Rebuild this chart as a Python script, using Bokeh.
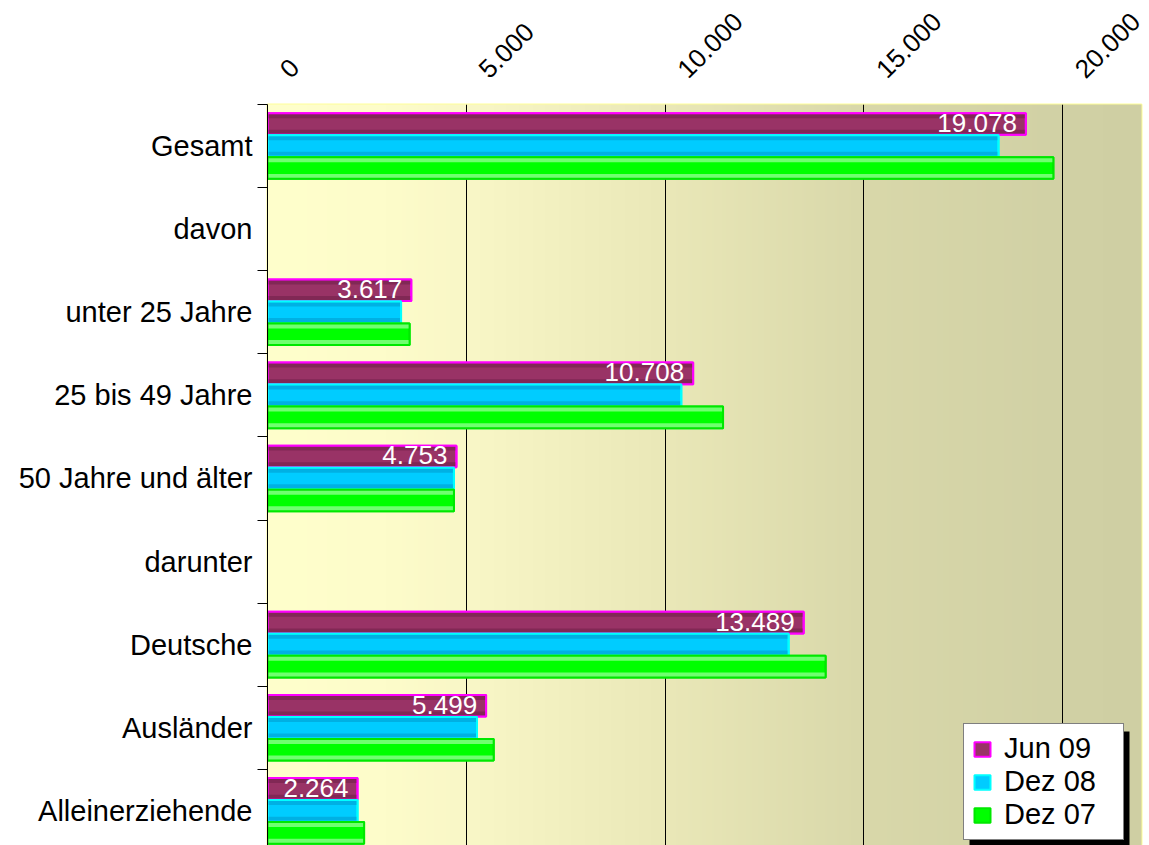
import math
import numpy as np
from bokeh.plotting import figure
from bokeh.models import (Range1d, FixedTicker, ColumnDataSource, Legend,
                          LegendItem, BoxAnnotation, LinearAxis)
from bokeh.core.properties import value
from bokeh.embed import file_html
from bokeh.resources import INLINE

nan = float("nan")

# ---------------- data ----------------
categories = ["Gesamt", "davon", "unter 25 Jahre", "25 bis 49 Jahre",
              "50 Jahre und älter", "darunter", "Deutsche", "Ausländer",
              "Alleinerziehende"]
jun09 = [19078, nan, 3617, 10708, 4753, nan, 13489, 5499, 2264]
dez08 = [18390, nan, 3360, 10410, 4690, nan, 13110, 5270, 2265]
dez07 = [19770, nan, 3575, 11460, 4690, nan, 14040, 5690, 2430]
series_names = ["Jun 09", "Dez 08", "Dez 07"]
x_ticks = [0, 5000, 10000, 15000, 20000]
x_tick_labels = ["0", "5.000", "10.000", "15.000", "20.000"]

FONT = "Liberation Sans"

# ---------------- styling ----------------
fills = ["#993366", "#00CCFF", "#00FF00"]
edges = ["#7A2651", "#00A9DC", "#8CFF8C"]
borders = ["#FF00FF", "#00FFFF", "#00E800"]
offsets = [-0.265, 0.0, 0.265]
bar_h = 0.26

W, H = 1149, 845
LEFT, TOP, RIGHT, BOTTOM = 267, 104, 8, 0
frame_w = W - LEFT - RIGHT
frame_h = H - TOP - BOTTOM
X_MAX = frame_w / 39.75 * 1000
Y_TOP = -0.5
Y_BOTTOM = Y_TOP + frame_h / 83.1
px_per_x = frame_w / X_MAX
px_per_y = frame_h / (Y_BOTTOM - Y_TOP)

p = figure(width=W, height=H, output_backend="svg", toolbar_location=None,
           x_range=Range1d(0, X_MAX), y_range=Range1d(Y_BOTTOM, Y_TOP),
           x_axis_location=None, min_border_left=LEFT, min_border_top=TOP,
           min_border_right=RIGHT, min_border_bottom=BOTTOM)
p.background_fill_color = "#FFFFCC"
p.border_fill_color = "white"
p.outline_line_color = "#FFFF99"
p.outline_line_width = 2

# background gradient (light yellow -> khaki)
stops_x = [0, 3000, 5000, 10000, 15000, 20000, 22000]
stops_c = [(255, 255, 204), (253, 252, 202), (249, 247, 199), (234, 232, 184),
           (217, 216, 170), (209, 209, 165), (207, 207, 163)]
N = 440
xs = np.linspace(0, 22000, N)
img = np.empty((1, N), dtype=np.uint32)
view = img.view(dtype=np.uint8).reshape((1, N, 4))
for ch in range(3):
    view[0, :, ch] = np.interp(xs, stops_x, [c[ch] for c in stops_c]).astype(np.uint8)
view[0, :, 3] = 255
p.image_rgba(image=[img], x=0, y=-0.6, dw=22000, dh=9.4, level="image")

idx = list(range(len(categories)))
legend_items = []
for k, vals in enumerate([jun09, dez08, dez07]):
    ys = [i + offsets[k] for i in idx]
    src = ColumnDataSource(dict(y=ys, right=vals,
                                yt=[y - bar_h / 2 + 0.03 for y in ys],
                                yb=[y + bar_h / 2 - 0.03 for y in ys]))
    base = p.hbar(y="y", left=0, right="right", height=bar_h, source=src,
                  fill_color=fills[k], line_color=borders[k], line_width=2)
    p.hbar(y="yt", left=0, right="right", height=0.06, source=src,
           fill_color=edges[k], fill_alpha=0.8, line_color=None)
    p.hbar(y="yb", left=0, right="right", height=0.06, source=src,
           fill_color=edges[k], fill_alpha=0.8, line_color=None)
    p.hbar(y="y", left=0, right="right", height=bar_h, source=src,
           fill_alpha=0, line_color=borders[k], line_width=2)
    legend_items.append(LegendItem(label=series_names[k], renderers=[base]))

# value labels on Jun 09 bars
lab_src = ColumnDataSource(dict(
    x=jun09, y=[i + offsets[0] for i in idx],
    t=["" if math.isnan(v) else f"{int(v):,}".replace(",", ".") for v in jun09]))
p.text(x="x", y="y", text="t", source=lab_src, text_align="right",
       text_baseline="middle", x_offset=-9, y_offset=-1, text_color="white",
       text_font=value(FONT), text_font_size="26px")

# grid
p.xgrid.ticker = FixedTicker(ticks=x_ticks)
p.xgrid.grid_line_color = "black"
p.xgrid.grid_line_width = 1
p.ygrid.visible = False

# top axis: label anchors sit a little right of their tick (Excel style),
# done through a shifted copy of the x range
shift = 17 / px_per_x
p.extra_x_ranges = {"lab": Range1d(-shift, X_MAX - shift)}
xa = LinearAxis(x_range_name="lab", ticker=FixedTicker(ticks=x_ticks))
xa.major_label_overrides = dict(zip(x_ticks, x_tick_labels))
xa.major_label_orientation = math.pi / 4
xa.axis_line_color = None
xa.major_tick_line_color = None
xa.minor_tick_line_color = None
xa.major_tick_out = 0
xa.major_label_text_font = FONT
xa.major_label_text_font_size = "26px"
xa.major_label_text_color = "black"
xa.major_label_standoff = 31
p.add_layout(xa, "above")

# left axis
ya = p.yaxis[0]
ya.ticker = FixedTicker(ticks=idx, minor_ticks=[i - 0.5 for i in range(len(categories) + 1)])
ya.major_label_overrides = {i: c for i, c in enumerate(categories)}
ya.major_tick_line_color = None
ya.major_tick_out = 0
ya.major_tick_in = 0
ya.minor_tick_line_color = "black"
ya.minor_tick_out = 10
ya.minor_tick_in = 0
ya.axis_line_color = "black"
ya.axis_line_width = 1
ya.major_label_text_font = FONT
ya.major_label_text_font_size = "29px"
ya.major_label_text_color = "black"
ya.major_label_standoff = 5

# legend + its shadow (decoration)
LEG_X, LEG_BOTTOM, LEG_W, LEG_H = 696, 5, 159, 115
shadow = BoxAnnotation(left=(LEG_X + 6) / px_per_x, right=(LEG_X + LEG_W + 7) / px_per_x,
                       top=Y_BOTTOM - (LEG_BOTTOM + LEG_H - 6) / px_per_y,
                       bottom=Y_BOTTOM + 1,
                       fill_color="black", fill_alpha=1, line_color=None,
                       level="annotation")
p.add_layout(shadow)

legend = Legend(items=legend_items, location=(LEG_X, LEG_BOTTOM), margin=0, padding=8,
                spacing=0, glyph_width=20, glyph_height=18, label_standoff=12,
                label_text_font=FONT, label_text_font_size="29px",
                label_text_color="black",
                label_width=111, label_height=31,
                border_line_color="black", border_line_width=1,
                background_fill_color="white", background_fill_alpha=1)
p.add_layout(legend)

open("out.html", "w").write(file_html(p, INLINE))
